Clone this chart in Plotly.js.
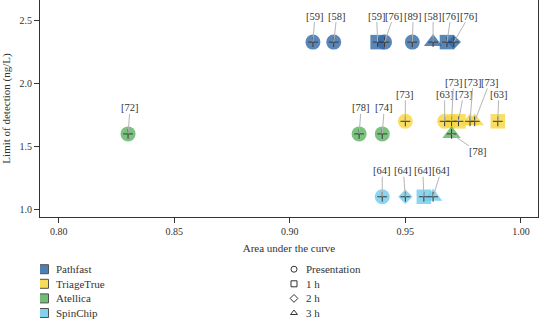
<!DOCTYPE html>
<html>
<head>
<meta charset="utf-8">
<script src="https://cdn.plot.ly/plotly-3.0.1.min.js"></script>
<style>html,body{margin:0;padding:0;background:#fff}</style>
</head>
<body>
<div id="chart" style="width:540px;height:319px"></div>
<script>
// Diagnostic accuracy (AUC) against limit of detection for four point-of-care assays.
// Each point is one study; the bracketed text is the study's reference number.
const devices = ['Pathfast', 'TriageTrue', 'Atellica', 'SpinChip'];
const timepoints = ['Presentation', '1 h', '2 h', '3 h'];

const pathfastAuc  = [0.910, 0.919, 0.938, 0.941, 0.953, 0.962, 0.968, 0.971];
const pathfastLod  = [2.33, 2.33, 2.33, 2.33, 2.33, 2.33, 2.33, 2.33];
const pathfastTime = ['Presentation', 'Presentation', '1 h', 'Presentation', 'Presentation', '3 h', '1 h', '2 h'];
const pathfastRef  = ['[59]', '[58]', '[59]', '[76]', '[89]', '[58]', '[76]', '[76]'];

const triageAuc  = [0.950, 0.967, 0.970, 0.973, 0.978, 0.980, 0.990];
const triageLod  = [1.70, 1.70, 1.70, 1.70, 1.70, 1.70, 1.70];
const triageTime = ['Presentation', 'Presentation', 'Presentation', '1 h', '3 h', '3 h', '1 h'];
const triageRef  = ['[73]', '[63]', '[73]', '[73]', '[73]', '[73]', '[63]'];

const atellicaAuc  = [0.830, 0.930, 0.940, 0.970];
const atellicaLod  = [1.60, 1.60, 1.60, 1.60];
const atellicaTime = ['Presentation', 'Presentation', 'Presentation', '3 h'];
const atellicaRef  = ['[72]', '[78]', '[74]', '[78]'];

const spinchipAuc  = [0.940, 0.950, 0.958, 0.962];
const spinchipLod  = [1.10, 1.10, 1.10, 1.10];
const spinchipTime = ['Presentation', '2 h', '1 h', '3 h'];
const spinchipRef  = ['[64]', '[64]', '[64]', '[64]'];

const xTicks = [0.80, 0.85, 0.90, 0.95, 1.00];
const yTicks = [1.0, 1.5, 2.0, 2.5];

// ---- styling ----
const serif = 'Liberation Serif, Times New Roman, serif';
const ink = '#333333';
const deviceColor = {
  Pathfast:   'rgb(50,105,166)',
  TriageTrue: 'rgb(246,214,61)',
  Atellica:   'rgb(91,177,95)',
  SpinChip:   'rgb(110,203,234)'
};
const symbolOf = {'Presentation': 'circle', '1 h': 'square', '2 h': 'diamond', '3 h': 'triangle-up'};
const sizeOf = {'circle': 15, 'square': 14.5, 'diamond': 11, 'triangle-up': 16};

// pixel offset of each reference label from its point
const labelShift = {
  Pathfast:   [[2, -26], [3, -26], [-1, -26], [9, -26], [1, -26], [0, -26], [4, -26], [15, -26]],
  TriageTrue: [[0, -27], [0, -27], [2, -39], [5, -27], [3, -39], [15, -39], [1, -27]],
  Atellica:   [[2, -26], [2, -26], [2, -26], [26, 18]],
  SpinChip:   [[0, -26], [-2, -26], [-1, -26], [8, -26]]
};

const series = [
  {name: 'Pathfast',   auc: pathfastAuc, lod: pathfastLod, time: pathfastTime, ref: pathfastRef},
  {name: 'TriageTrue', auc: triageAuc,   lod: triageLod,   time: triageTime,   ref: triageRef},
  {name: 'Atellica',   auc: atellicaAuc, lod: atellicaLod, time: atellicaTime, ref: atellicaRef},
  {name: 'SpinChip',   auc: spinchipAuc, lod: spinchipLod, time: spinchipTime, ref: spinchipRef}
];

const traces = [];
const annotations = [];

series.forEach(s => {
  const syms = s.time.map(t => symbolOf[t]);
  traces.push({
    type: 'scatter', mode: 'markers', name: s.name,
    x: s.auc, y: s.lod, xaxis: 'x', yaxis: 'y',
    marker: {
      symbol: syms,
      size: syms.map(k => sizeOf[k]),
      color: deviceColor[s.name],
      opacity: 0.8,
      line: {width: 0}
    },
    hoverinfo: 'skip'
  });
  s.ref.forEach((r, i) => {
    const [dx, dy] = labelShift[s.name][i];
    annotations.push({
      x: s.auc[i], y: s.lod[i], xref: 'x', yref: 'y',
      text: r, showarrow: true, ax: dx, ay: dy,
      arrowhead: 0, arrowwidth: 1, arrowcolor: '#b5b5b5',
      standoff: 0, startstandoff: 0, borderpad: 0,
      font: {family: serif, size: 10.5, color: ink}
    });
  });
});

// small crosses marking each point's exact position
traces.push({
  type: 'scatter', mode: 'markers',
  x: [].concat(...series.map(s => s.auc)),
  y: [].concat(...series.map(s => s.lod)),
  xaxis: 'x', yaxis: 'y',
  marker: {symbol: 'cross-thin', size: 7, line: {width: 1, color: '#3a3a3a'}},
  hoverinfo: 'skip'
});

// ---- key below the plot (drawn on a hidden pixel-unit subplot) ----
const keyRowY = [269.2, 283.8, 298.4, 313.0];
const keyColourX = 44, keyShapeX = 294, keyTextGap = 10;

traces.push({
  type: 'scatter', mode: 'markers', xaxis: 'x2', yaxis: 'y2',
  x: devices.map(() => keyColourX), y: keyRowY,
  marker: {symbol: 'square', size: 9, color: devices.map(d => deviceColor[d]), opacity: 0.85,
           line: {width: 1, color: ink}},
  hoverinfo: 'skip'
});
traces.push({
  type: 'scatter', mode: 'markers', xaxis: 'x2', yaxis: 'y2',
  x: timepoints.map(() => keyShapeX), y: keyRowY,
  marker: {symbol: timepoints.map(t => symbolOf[t] + '-open'), size: 6, color: ink,
           line: {width: 1, color: ink}},
  hoverinfo: 'skip'
});
devices.forEach((d, i) => annotations.push({
  x: keyColourX + keyTextGap, y: keyRowY[i], xref: 'x2', yref: 'y2',
  text: d, showarrow: false, xanchor: 'left', yanchor: 'middle',
  font: {family: serif, size: 11, color: ink}
}));
timepoints.forEach((t, i) => annotations.push({
  x: keyShapeX + keyTextGap, y: keyRowY[i], xref: 'x2', yref: 'y2',
  text: t, showarrow: false, xanchor: 'left', yanchor: 'middle',
  font: {family: serif, size: 11, color: ink}
}));

const W = 540, H = 319, plotLeft = 40, plotRight = 538, plotBottom = 217;

const layout = {
  width: W, height: H,
  margin: {l: plotLeft, r: W - plotRight, t: 0, b: 0, pad: 0},
  paper_bgcolor: '#ffffff', plot_bgcolor: '#ffffff',
  showlegend: false, hovermode: false,
  font: {family: serif, color: ink},
  xaxis: {
    domain: [0, 1], anchor: 'y',
    range: [0.7919, 1.0074],
    tickvals: xTicks, ticktext: xTicks.map(v => v.toFixed(2)),
    ticks: 'outside', ticklen: 5, tickwidth: 1, tickcolor: ink,
    tickfont: {family: serif, size: 10, color: ink},
    showline: true, linecolor: ink, linewidth: 1, mirror: true,
    showgrid: false, zeroline: false,
    title: {text: 'Area under the curve', font: {family: serif, size: 11, color: ink}, standoff: 8}
  },
  yaxis: {
    domain: [1 - plotBottom / H, 1], anchor: 'x',
    range: [0.939, 2.665],
    tickvals: yTicks, ticktext: yTicks.map(v => v.toFixed(1)),
    ticks: 'outside', ticklen: 5, tickwidth: 1, tickcolor: ink,
    tickfont: {family: serif, size: 10, color: ink},
    showline: true, linecolor: ink, linewidth: 1, mirror: true,
    showgrid: false, zeroline: false,
    title: {text: 'Limit of detection (ng/L)', font: {family: serif, size: 11, color: ink}, standoff: 6}
  },
  xaxis2: {domain: [0, 1], anchor: 'y2', range: [plotLeft, plotRight], visible: false, fixedrange: true},
  yaxis2: {domain: [0, 1 - plotBottom / H - 0.001], anchor: 'x2', range: [H, plotBottom + 0.3], visible: false, fixedrange: true},
  annotations: annotations
};

Plotly.newPlot('chart', traces, layout, {staticPlot: true, displayModeBar: false});
</script>
</body>
</html>
